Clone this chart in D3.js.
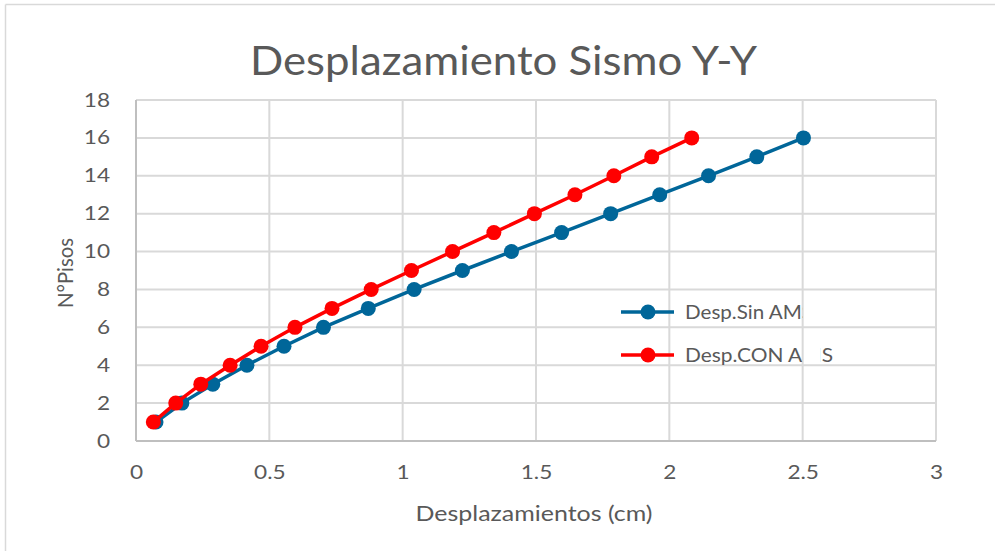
<!DOCTYPE html>
<html>
<head>
<meta charset="utf-8">
<script src="https://cdn.jsdelivr.net/npm/d3@7"></script>
<style>
  html, body { margin: 0; padding: 0; background: #fff; }
  svg { display: block; font-family: Lato, "Open Sans", sans-serif; }
</style>
</head>
<body>
<svg id="chart" width="995" height="551"></svg>
<script>
// Floors (story numbers)
const floors = [1, 2, 3, 4, 5, 6, 7, 8, 9, 10, 11, 12, 13, 14, 15, 16];
// Story displacements in cm
const despSinAMS = [0.075, 0.172, 0.288, 0.416, 0.555, 0.703, 0.871, 1.043, 1.224, 1.408, 1.596, 1.780, 1.964, 2.147, 2.328, 2.503];
const despConAMS = [0.065, 0.149, 0.243, 0.353, 0.469, 0.596, 0.735, 0.882, 1.033, 1.187, 1.342, 1.494, 1.646, 1.792, 1.934, 2.084];
const xTicks = [0, 0.5, 1, 1.5, 2, 2.5, 3];
const yTicks = [0, 2, 4, 6, 8, 10, 12, 14, 16, 18];
const seriesNames = ["Desp.Sin AMS", "Desp.CON AMS"];
const seriesColors = ["#006699", "#ff0000"];

const svg = d3.select("#chart");
const textColor = "#595959";
const STRETCH = 1.19; // text is drawn slightly wide

// Widen a text element horizontally around its anchor
function widen(sel, target) {
  sel.each(function () {
    const len = this.getComputedTextLength();
    d3.select(this).attr("textLength", target || len * STRETCH)
      .attr("lengthAdjust", "spacingAndGlyphs");
  });
}

// Outer frame (top and left edges)
svg.append("line").attr("x1", 5.5).attr("x2", 995).attr("y1", 4.5).attr("y2", 4.5)
  .attr("stroke", "#d9d9d9").attr("stroke-width", 1.5);
svg.append("line").attr("x1", 5.5).attr("x2", 5.5).attr("y1", 4.5).attr("y2", 551)
  .attr("stroke", "#d9d9d9").attr("stroke-width", 1.5);

const plot = { left: 136, right: 936, top: 100, bottom: 441 };
const x = d3.scaleLinear().domain([0, 3]).range([plot.left, plot.right]);
const y = d3.scaleLinear().domain([0, 18]).range([plot.bottom, plot.top]);

// Gridlines
svg.append("g").selectAll("line").data(xTicks).join("line")
  .attr("x1", d => x(d)).attr("x2", d => x(d))
  .attr("y1", plot.top).attr("y2", plot.bottom)
  .attr("stroke", "#d9d9d9").attr("stroke-width", 2);
svg.append("g").selectAll("line").data(yTicks).join("line")
  .attr("x1", plot.left).attr("x2", plot.right)
  .attr("y1", d => y(d)).attr("y2", d => y(d))
  .attr("stroke", "#d9d9d9").attr("stroke-width", 2);
// Axis lines
svg.append("line").attr("x1", plot.left).attr("x2", plot.right)
  .attr("y1", plot.bottom).attr("y2", plot.bottom).attr("stroke", "#bfbfbf").attr("stroke-width", 2);
svg.append("line").attr("x1", plot.left).attr("x2", plot.left)
  .attr("y1", plot.top).attr("y2", plot.bottom).attr("stroke", "#bfbfbf").attr("stroke-width", 2);

// Axes (labels only)
const xAxis = svg.append("g").attr("transform", `translate(0,${plot.bottom + 21})`)
  .call(d3.axisBottom(x).tickValues(xTicks).tickSize(0).tickFormat(d3.format("")));
const yAxis = svg.append("g").attr("transform", `translate(${plot.left - 23},0)`)
  .call(d3.axisLeft(y).tickValues(yTicks).tickSize(0));
[xAxis, yAxis].forEach(g => {
  g.select(".domain").remove();
  g.selectAll("text").attr("fill", textColor).style("font-size", "19px")
    .style("font-family", "Lato, sans-serif");
  widen(g.selectAll("text"));
});

// Title and axis titles
svg.append("text").attr("x", 503.5).attr("y", 75).attr("text-anchor", "middle")
  .attr("fill", textColor).style("font-size", "40px").text("Desplazamiento Sismo Y-Y")
  .call(widen, 507);
svg.append("text").attr("x", 534).attr("y", 521).attr("text-anchor", "middle")
  .attr("fill", textColor).style("font-size", "21px").text("Desplazamientos (cm)")
  .call(widen, 237);
svg.append("text").attr("transform", "translate(73,273) rotate(-90)").attr("text-anchor", "middle")
  .attr("fill", textColor).style("font-size", "21px").text("N°Pisos")
  .call(widen, 70);

// Series
const series = [despSinAMS, despConAMS];
const line = d3.line().x(d => x(d[0])).y(d => y(d[1]));
series.forEach((vals, i) => {
  const pts = vals.map((v, j) => [v, floors[j]]);
  const g = svg.append("g");
  g.append("path").datum(pts).attr("d", line).attr("fill", "none")
    .attr("stroke", seriesColors[i]).attr("stroke-width", 3.5);
  g.selectAll("circle").data(pts).join("circle")
    .attr("cx", d => x(d[0])).attr("cy", d => y(d[1])).attr("r", 7.5)
    .attr("fill", seriesColors[i]);
});

// Legend; entry text is cut off at the 2.5 gridline
const defs = svg.append("defs");
defs.append("clipPath").attr("id", "legClip1").append("rect")
  .attr("x", 600).attr("y", 290).attr("width", x(2.5) - 600).attr("height", 40);
const legClip2 = defs.append("clipPath").attr("id", "legClip2");
legClip2.append("rect").attr("x", 600).attr("y", 335).attr("width", x(2.5) - 600).attr("height", 40);
legClip2.append("rect").attr("x", 820).attr("y", 335).attr("width", 40).attr("height", 40);

const legendY = [312, 355];
const legendWidths = [128, 148];
seriesNames.forEach((name, i) => {
  const g = svg.append("g");
  g.append("line").attr("x1", 621).attr("x2", 674).attr("y1", legendY[i]).attr("y2", legendY[i])
    .attr("stroke", seriesColors[i]).attr("stroke-width", 3.5);
  g.append("circle").attr("cx", 648).attr("cy", legendY[i]).attr("r", 7.5).attr("fill", seriesColors[i]);
  g.append("text").attr("x", 685).attr("y", legendY[i] + 7)
    .attr("clip-path", `url(#legClip${i + 1})`)
    .attr("fill", textColor).style("font-size", "19px").text(name)
    .call(widen, legendWidths[i]);
});
</script>
</body>
</html>
